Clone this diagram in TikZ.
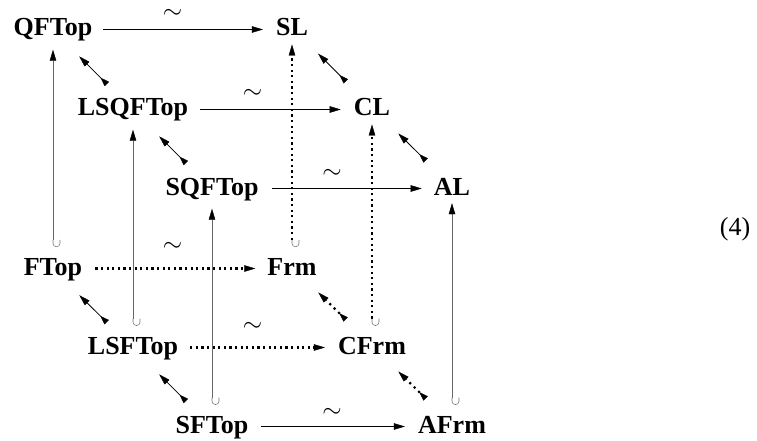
\documentclass[tikz,border=0pt]{standalone}
\usepackage{fontspec}
\setmainfont{Liberation Serif}
\usetikzlibrary{arrows.meta,calc}

% small U-shaped hook used as the tail of an inclusion
\pgfdeclarearrow{
  name = UHook,
  setup code = {
    \pgfarrowssettipend{7pt}
    \pgfarrowssetlineend{0pt}
    \pgfarrowssetbackend{0pt}
    \pgfarrowshullpoint{7pt}{0pt}
    \pgfarrowshullpoint{7pt}{7pt}
    \pgfarrowshullpoint{0pt}{7pt}
    \pgfarrowshullpoint{0pt}{0pt}
  },
  drawing code = {
    \pgfsetdash{}{0pt}
    \pgfsetlinewidth{0.55pt}
    \pgfsetstrokecolor{black!55}
    \pgfpathmoveto{\pgfpoint{0pt}{0pt}}
    \pgfpathlineto{\pgfpoint{3.5pt}{0pt}}
    \pgfpatharc{-90}{90}{3.5pt}
    \pgfpathlineto{\pgfpoint{0pt}{7pt}}
    \pgfusepathqstroke
  },
}

\tikzset{
  hd/.tip={Triangle[length=11pt 0, width=6.5pt 0, line width=0.4pt 0]},
  rt/.tip={Triangle[reversed, length=9pt 0, width=6pt 0, line width=0.4pt 0]},
  obj/.style={font=\fontsize{26}{30}\selectfont\bfseries, inner sep=0pt, anchor=base},
  eqv/.style={font=\fontsize{26}{30}\selectfont, inner sep=0pt, anchor=base,
              text height=10pt, text depth=0pt},
  thinline/.style={line width=0.8pt},
  dotline/.style={line width=2.2pt, dash pattern=on 2.2pt off 3.4pt},
  iso/.style={thinline, -{hd}},
  isodot/.style={dotline, -{hd}},
  incl/.style={thinline, draw=black!60, {UHook}-{hd[color=black]}},
  incldot/.style={dotline, {UHook}-{hd}},
  adj/.style={thinline, {rt}-{hd}, shorten <=37pt, shorten >=37pt},
  adjdot/.style={dotline, dash pattern=on 2.2pt off 4pt, {rt}-{hd}, shorten <=37pt, shorten >=37pt},
}

\begin{document}
\begin{tikzpicture}[x=1pt,y=-1pt]
\useasboundingbox (0,0) rectangle (757,441);

% back face (quantale-like side)
\node[obj] (qftop)   at (53,36)   {QFTop};
\node[obj] (sl)      at (292,36)  {SL};
\node[obj] (lsqftop) at (133,116) {LSQFTop};
\node[obj] (cl)      at (372,116) {CL};
\node[obj] (sqftop)  at (212,195) {SQFTop};
\node[obj] (al)      at (452,195) {AL};
% front face (frame side)
\node[obj] (ftop)    at (53,275)  {FTop};
\node[obj] (frm)     at (292,275) {Frm};
\node[obj] (lsftop)  at (133,354) {LSFTop};
\node[obj] (cfrm)    at (372,354) {CFrm};
\node[obj] (sftop)   at (212,433) {SFTop};
\node[obj] (afrm)    at (452,433) {AFrm};

\node[font=\fontsize{26}{30}\selectfont, inner sep=0pt] (eqno) at (735,229) {(4)};

% horizontal equivalences
\draw[iso]    ($(qftop.base east)+(11,-6.5)$)   -- ($(sl.base west)+(-13,-6.5)$);
\draw[iso]    ($(lsqftop.base east)+(12,-6.5)$) -- ($(cl.base west)+(-13,-6.5)$);
\draw[iso]    ($(sqftop.base east)+(13,-6.5)$)  -- ($(al.base west)+(-12,-6.5)$);
\draw[isodot] ($(ftop.base east)+(13,-6.5)$)    -- ($(frm.base west)+(-12,-6.5)$);
\draw[isodot] ($(lsftop.base east)+(12,-6.5)$)  -- ($(cfrm.base west)+(-13,-6.5)$);
\draw[iso]    ($(sftop.base east)+(12,-6.5)$)   -- ($(afrm.base west)+(-13,-6.5)$);

% the "~" marks sit on their own baselines above each equivalence
\node[eqv] (e1) at ($(qftop.base)!0.5!(sl.base)+(0,-17.5)$)     {$\sim$};
\node[eqv] (e2) at ($(lsqftop.base)!0.5!(cl.base)+(0,-17.5)$)   {$\sim$};
\node[eqv] (e3) at ($(sqftop.base)!0.5!(al.base)+(0,-16.5)$)    {$\sim$};
\node[eqv] (e4) at ($(ftop.base)!0.5!(frm.base)+(0,-23.5)$)     {$\sim$};
\node[eqv] (e5) at ($(lsftop.base)!0.5!(cfrm.base)+(0,-22.5)$)  {$\sim$};
\node[eqv] (e6) at ($(sftop.base)!0.5!(afrm.base)+(0,-15.5)$)   {$\sim$};

% vertical inclusions
\draw[incl]    ($(ftop.north)+(0,-11)$)   -- ($(qftop.south)+(0,8)$);
\draw[incl]    ($(lsftop.north)+(0,-11)$) -- ($(lsqftop.south)+(0,8)$);
\draw[incl]    ($(sftop.north)+(0,-11)$)  -- ($(sqftop.south)+(0,8)$);
\draw[incldot] ($(frm.north)+(0,-11)$)    -- ($(sl.south)+(0,8)$);
\draw[incldot] ($(cfrm.north)+(0,-11)$)   -- ($(cl.south)+(0,8)$);
\draw[incl]    ($(afrm.north)+(0,-11)$)   -- ($(al.south)+(0,8)$);

% diagonal adjunctions
\draw[adj]    (lsqftop.center) -- (qftop.center);
\draw[adj]    (sqftop.center)  -- (lsqftop.center);
\draw[adj]    (cl.center)      -- (sl.center);
\draw[adj]    (al.center)      -- (cl.center);
\draw[adj]    (lsftop.center)  -- (ftop.center);
\draw[adj]    (sftop.center)   -- (lsftop.center);
\draw[adjdot] (cfrm.center)    -- (frm.center);
\draw[adjdot] (afrm.center)    -- (cfrm.center);
\end{tikzpicture}
\end{document}
